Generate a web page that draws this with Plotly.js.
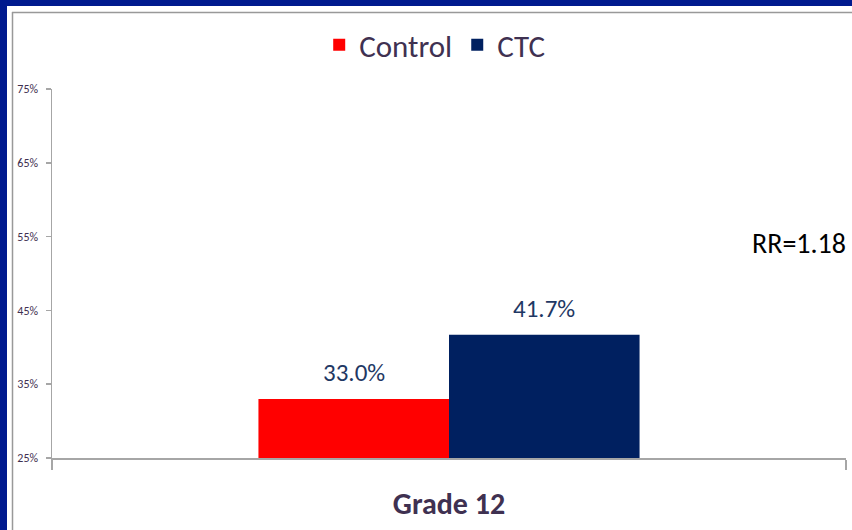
<!DOCTYPE html>
<html>
<head>
<meta charset="utf-8">
<script src="https://cdn.plot.ly/plotly-3.0.1.min.js"></script>
<style>html,body{margin:0;padding:0;background:#fff;}#chart{width:852px;height:530px;}</style>
</head>
<body>
<div id="chart"></div>
<script>
const categories = ['Grade 12'];
const seriesNames = ['Control', 'CTC'];
const controlValues = [33.0];
const ctcValues = [41.7];
const yTickVals = [25, 35, 45, 55, 65, 75];
const yTickText = ['25%', '35%', '45%', '55%', '65%', '75%'];
const rrLabel = 'RR=1.18';

const FONT = 'Carlito, Calibri, Lato, "Open Sans", sans-serif';
const TXT = '#3F3151';
const BARGAP = 0.52;

// plot area in pixels: x 52..846, y 89..458
const L = 52, R = 846, T = 89, B = 458;
const W = 852, H = 530;
const px = v => (v - L) / (R - L);
const py = v => (B - v) / (B - T);

const traces = [
  {type:'bar', name: seriesNames[0], x: categories, y: controlValues,
   marker:{color:'#FF0000'}, hoverinfo:'none'},
  {type:'bar', name: seriesNames[1], x: categories, y: ctcValues,
   marker:{color:'#002060'}, hoverinfo:'none'}
];

// value labels placed at bar centers (category index +/- half a bar width)
const barW = (1 - BARGAP) / 2;
const labelAnn = [];
categories.forEach((c, i) => {
  [[controlValues, -1], [ctcValues, 1]].forEach(([vals, side]) => {
    labelAnn.push({xref:'x', yref:'y', x: i + side * barW / 2, y: vals[i], yanchor:'bottom', yshift: 9,
      showarrow:false, text: vals[i].toFixed(1) + '%', font:{family: FONT, size: 25, color:'#1F3864'}});
  });
});

const layout = {
  width: W, height: H,
  margin: {l: L, r: W - R, t: T, b: H - B, pad: 0},
  paper_bgcolor: '#ffffff', plot_bgcolor: 'rgba(0,0,0,0)',
  font: {family: FONT, color: TXT},
  barmode: 'group', bargap: BARGAP, bargroupgap: 0,
  showlegend: true,
  legend: {orientation: 'h', x: 0.482, xanchor: 'center', y: py(45), yanchor: 'middle',
           font: {family: FONT, size: 31, color: TXT}, itemwidth: 30, tracegroupgap: 0,
           bgcolor: 'rgba(0,0,0,0)'},
  xaxis: {type: 'category', showline: true, linecolor: '#A6A6A6', linewidth: 2,
          ticks: 'outside', tickson: 'boundaries', ticklen: 10, tickcolor: '#A6A6A6', tickwidth: 2,
          tickfont: {family: FONT, size: 30, color: TXT, weight: 'bold'}, ticklabelstandoff: 18,
          showgrid: false, zeroline: false, fixedrange: true},
  yaxis: {range: [25, 75], tickvals: yTickVals, ticktext: yTickText,
          showline: true, linecolor: '#A6A6A6', linewidth: 1.5,
          ticks: 'outside', ticklen: 5, tickcolor: '#A6A6A6', tickwidth: 1.5,
          tickfont: {family: FONT, size: 12, color: TXT}, ticklabelstandoff: 5,
          showgrid: false, zeroline: false, fixedrange: true},
  shapes: [
    {type:'rect', xref:'paper', yref:'paper', layer:'below', x0: px(0), x1: px(W), y0: py(0), y1: py(H),
     fillcolor:'#001A8E', line:{width:0}},
    {type:'rect', xref:'paper', yref:'paper', layer:'below', x0: px(7), x1: px(W), y0: py(6), y1: py(H),
     fillcolor:'#ffffff', line:{width:0}},
    {type:'line', xref:'paper', yref:'paper', layer:'below', x0: px(12.5), x1: px(12.5), y0: py(12), y1: py(H),
     line:{color:'#999999', width:1.5}},
    {type:'line', xref:'paper', yref:'paper', layer:'below', x0: px(12), x1: px(W), y0: py(12.5), y1: py(12.5),
     line:{color:'#999999', width:1.5}}
  ],
  annotations: labelAnn.concat([
    {xref:'paper', yref:'paper', x: 1.002, y: py(243), xanchor:'right', yanchor:'middle', showarrow:false,
     text: rrLabel, font:{family: FONT, size: 28, color:'#000000'}}
  ])
};

Plotly.newPlot('chart', traces, layout, {displayModeBar: false, staticPlot: true});
</script>
</body>
</html>
